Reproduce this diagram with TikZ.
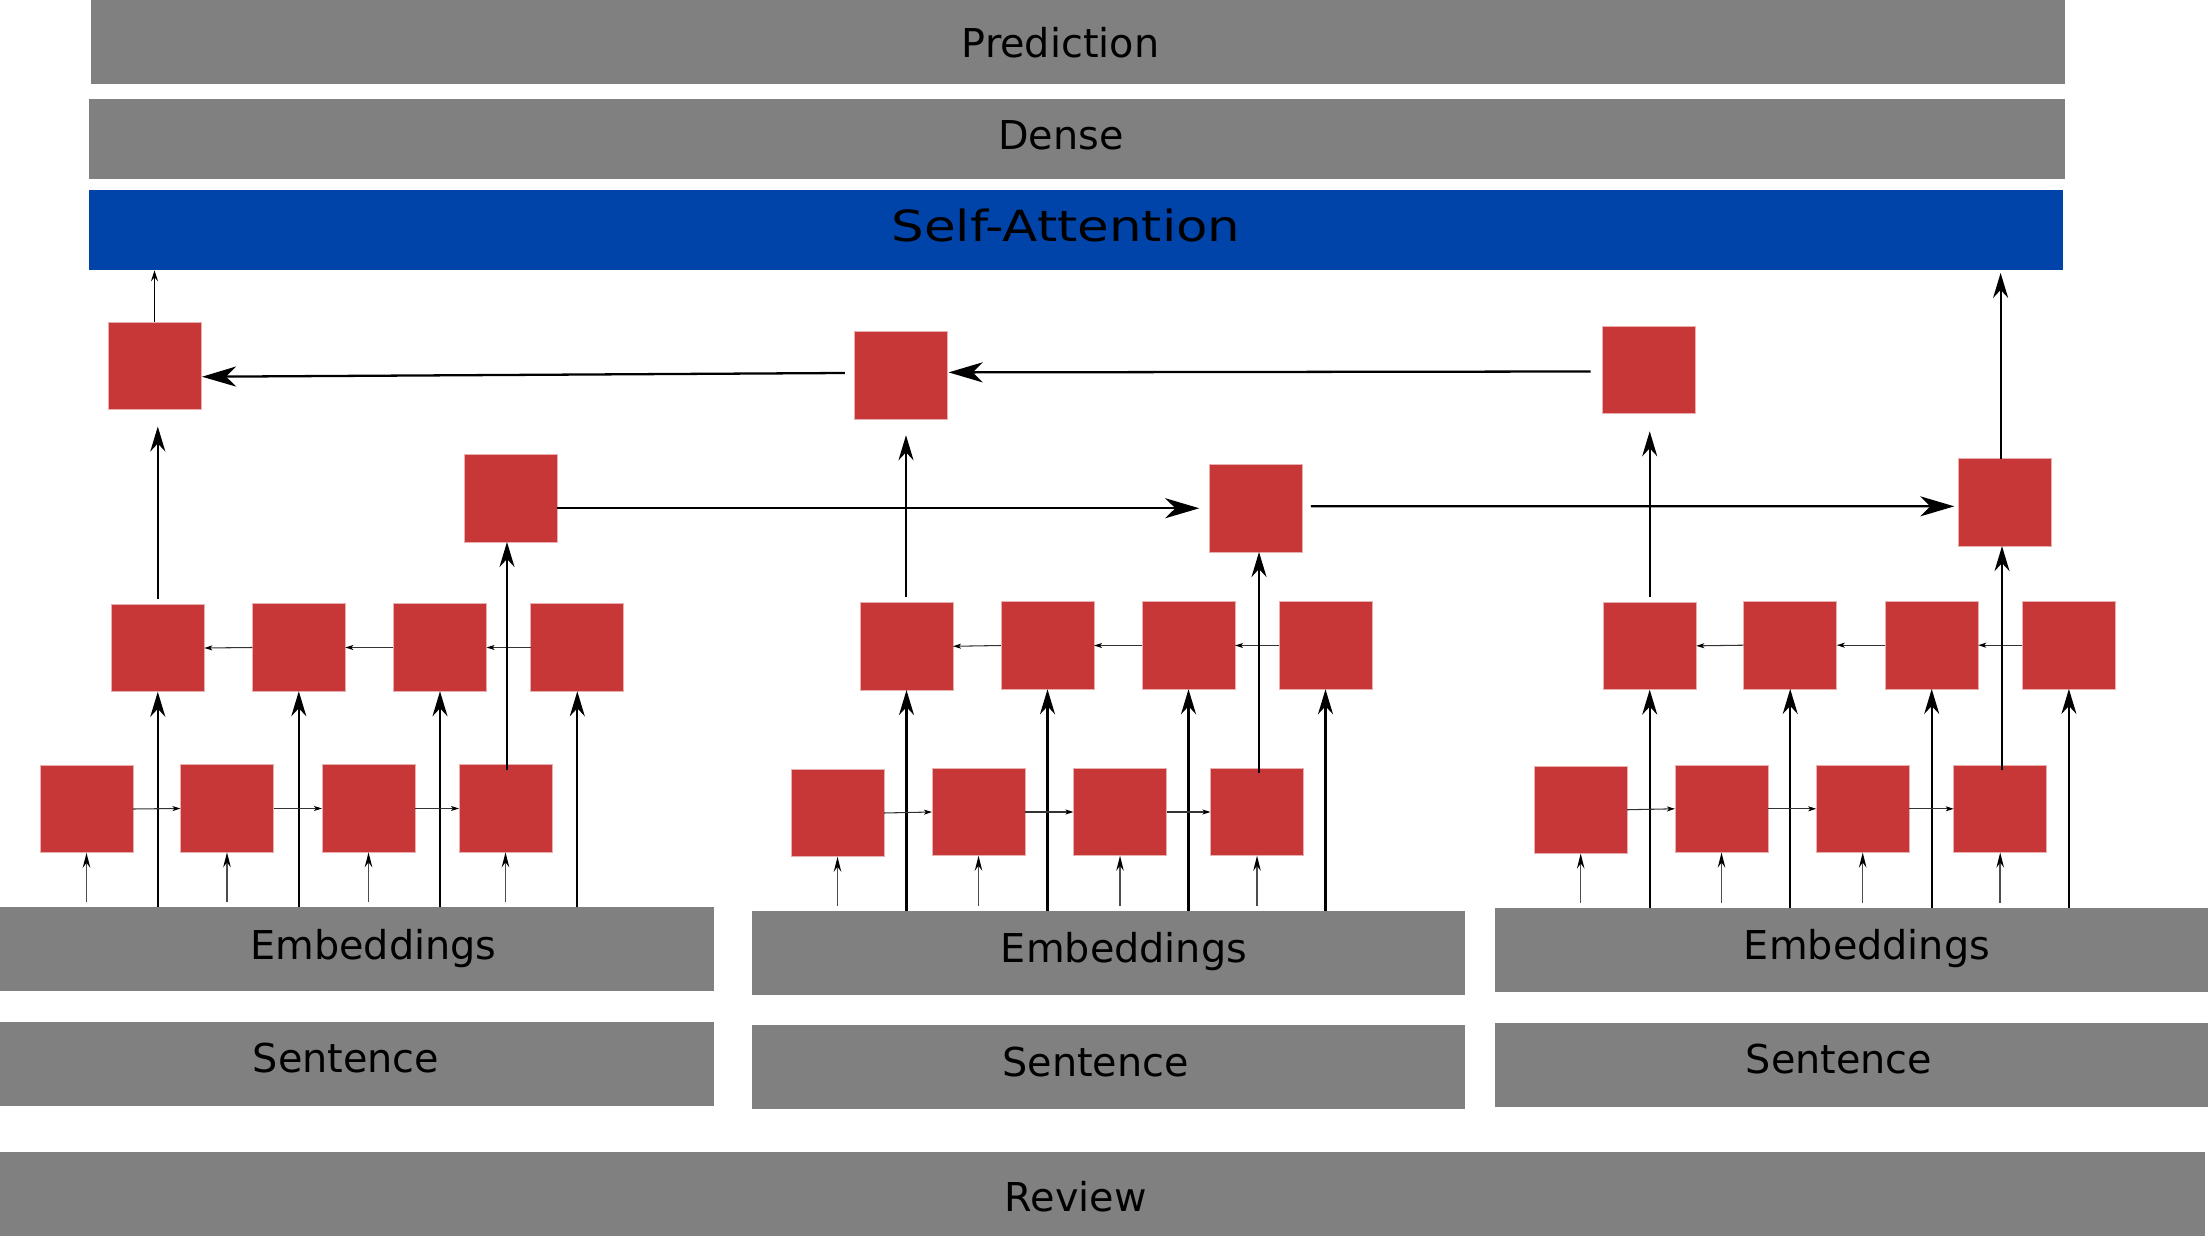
\documentclass[tikz,border=0pt]{standalone}
\usepackage{fontspec}
\setmainfont{DejaVu Sans}
\newfontfamily\widefont[FakeStretch=1.2]{DejaVu Sans}
\usetikzlibrary{arrows.meta,calc}
\definecolor{boxred}{HTML}{C83737}
\definecolor{boxedge}{HTML}{E9AFAF}
\definecolor{bargray}{HTML}{808080}
\definecolor{sablue}{HTML}{0044AA}
\begin{document}
\begin{tikzpicture}[x=0.01cm,y=-0.01cm,
  rbox/.style={rectangle, fill=boxred, draw=boxedge, line width=0.25pt, minimum width=0.93cm, minimum height=0.875cm, inner sep=0pt, outer sep=0pt},
  bar/.style={rectangle, fill=bargray, inner sep=0pt, outer sep=0pt, minimum height=0.84cm},
  lbl/.style={anchor=base, inner sep=0pt, font=\fontsize{11.3pt}{13pt}\selectfont},
  big/.style={line width=0.65pt, -{Stealth[length=0.34cm,width=0.2cm,inset=0.1cm]}},
  vlong/.style={line width=0.6pt, -{Stealth[length=0.25cm,width=0.15cm,inset=0.08cm]}},
  inp/.style={line width=0.42pt, draw=black!70, -{Stealth[length=0.15cm,width=0.075cm,inset=0.05cm,color=black]}},
  smallarr/.style={line width=0.3pt, draw=black!80, -{Stealth[length=0.08cm,width=0.05cm,inset=0.02cm,color=black]}},
  toarrow/.style={line width=0.3pt, -{Stealth[length=0.11cm,width=0.07cm,inset=0.04cm]}}
]
\useasboundingbox (0,0) rectangle (2209,1237);

% top bars
\node[bar, minimum width=19.725cm] (pred) at (1077.75,42) {};
\node[lbl] (tpred) at (1060.5,57.3) {Prediction};
\node[bar, minimum width=19.74cm, minimum height=0.8cm] (dense) at (1077,139.3) {};
\node[lbl] (tdense) at (1061,150) {Dense};
\node[bar, fill=sablue, minimum width=19.72cm, minimum height=0.8cm] (sa) at (1076,230.3) {};
\node[lbl, font=\widefont\fontsize{12.2pt}{14pt}\selectfont] (tsa) at (1066,241.7) {Self-Attention};

% bottom bars
\node[bar, minimum width=7.14cm] (aemb) at (357,949.3) {};
\node[lbl] (taemb) at (373.4,959) {Embeddings};
\node[bar, minimum width=7.13cm] (bemb) at (1108.5,953) {};
\node[lbl] (tbemb) at (1124,962.3) {Embeddings};
\node[bar, minimum width=7.13cm] (cemb) at (1851.5,950.2) {};
\node[lbl] (tcemb) at (1867,959.3) {Embeddings};
\node[bar, minimum width=7.14cm] (asen) at (357,1063.7) {};
\node[lbl] (tasen) at (346,1072.7) {Sentence};
\node[bar, minimum width=7.13cm] (bsen) at (1108.5,1067.3) {};
\node[lbl] (tbsen) at (1095.5,1076.7) {Sentence};
\node[bar, minimum width=7.13cm] (csen) at (1851.5,1064.7) {};
\node[lbl] (tcsen) at (1839,1073.7) {Sentence};
\node[bar, minimum width=22.04cm] (rev) at (1102,1194) {};
\node[lbl] (trev) at (1075.8,1211.7) {Review};

% group 1 boxes
\node[rbox] (af1) at (86.5,809) {};
\node[rbox] (af2) at (227,808.5) {};
\node[rbox] (af3) at (368.5,808.5) {};
\node[rbox] (af4) at (505.5,808.5) {};
\node[rbox] (ab1) at (157.8,648) {};
\node[rbox] (ab2) at (298.8,647.5) {};
\node[rbox] (ab3) at (440,647.5) {};
\node[rbox] (ab4) at (577.3,647.5) {};
\node[rbox] (aB) at (154.5,365.75) {};
\node[rbox] (aF) at (510.5,498.25) {};
% group 2 boxes
\node[rbox] (bf1) at (837.5,813) {};
\node[rbox] (bf2) at (978.5,812) {};
\node[rbox] (bf3) at (1120,812) {};
\node[rbox] (bf4) at (1257,812) {};
\node[rbox] (bb1) at (906.5,646.3) {};
\node[rbox] (bb2) at (1047.5,645.5) {};
\node[rbox] (bb3) at (1188.5,645.5) {};
\node[rbox] (bb4) at (1325.5,645.5) {};
\node[rbox] (bB) at (900.5,375.5) {};
\node[rbox] (bF) at (1256.3,508.25) {};
% group 3 boxes
\node[rbox] (cf1) at (1580.7,809.75) {};
\node[rbox] (cf2) at (1721.5,808.8) {};
\node[rbox] (cf3) at (1862.7,808.8) {};
\node[rbox] (cf4) at (2000.2,808.8) {};
\node[rbox] (cb1) at (1649.7,645.85) {};
\node[rbox] (cb2) at (1790.2,645.2) {};
\node[rbox] (cb3) at (1931.7,645.2) {};
\node[rbox] (cb4) at (2068.9,645.2) {};
\node[rbox] (cB) at (1649.2,369.8) {};
\node[rbox] (cF) at (2004.8,502.35) {};

% input arrows and long arrows
\foreach \g in {a,b,c}{
  \foreach \i in {1,2,3,4}{
    \draw[inp, shorten <=0.05cm] (\g f\i |- \g emb.north) -- (\g f\i.south);
    \draw[vlong] (\g b\i |- \g emb.north) -- (\g b\i.south);
  }
  \draw[smallarr] (\g f1.east) -- (\g f2.west);
  \draw[smallarr] (\g f2.east) -- (\g f3.west);
  \draw[smallarr] (\g f3.east) -- (\g f4.west);
  \draw[smallarr] (\g b4.west) -- (\g b3.east);
  \draw[smallarr] (\g b3.west) -- (\g b2.east);
  \draw[smallarr] (\g b2.west) -- (\g b1.east);
}

% last forward cell up to sentence-level forward cell
\draw[vlong] ($(af4.north)+(1.5,5)$) coordinate (s1) -- (s1 |- aF.south);
\draw[vlong] ($(bf4.north)+(2,5)$) coordinate (s2) -- (s2 |- bF.south);
\draw[vlong] ($(cf4.north)+(1.8,5)$) coordinate (s3) -- (s3 |- cF.south);

% first backward cell up to sentence-level backward cell
\draw[vlong] ($(ab1.north)+(0,-5)$) coordinate (u1) -- ($(u1 |- aB.south)+(0,17)$);
\draw[vlong] ($(bb1.north)+(-0.5,-6)$) coordinate (u2) -- ($(u2 |- bB.south)+(0,16)$);
\draw[vlong] ($(cb1.north)+(0,-5)$) coordinate (u3) -- ($(u3 |- cB.south)+(0,17.7)$);

% sentence-level connections
\draw[big] ($(aF.east)+(0,10)$) -- ($(bF.west)+(-10.5,0)$);
\draw[big] ($(bF.east)+(8,-2)$) -- ($(cF.west)+(-4,4)$);
\draw[big] ($(cB.west)+(-12,1.7)$) -- ($(bB.east)+(1.6,-3.1)$);
\draw[big] ($(bB.west)+(-9,-2.5)$) -- ($(aB.east)+(1,11)$);

% to self-attention
\draw[toarrow] (aB.north) -- (aB.north |- sa.south);
\draw[vlong] ($(cF.north)+(-4.2,0)$) coordinate (v1) -- ($(v1 |- sa.south)+(0,2.6)$);
\end{tikzpicture}
\end{document}
